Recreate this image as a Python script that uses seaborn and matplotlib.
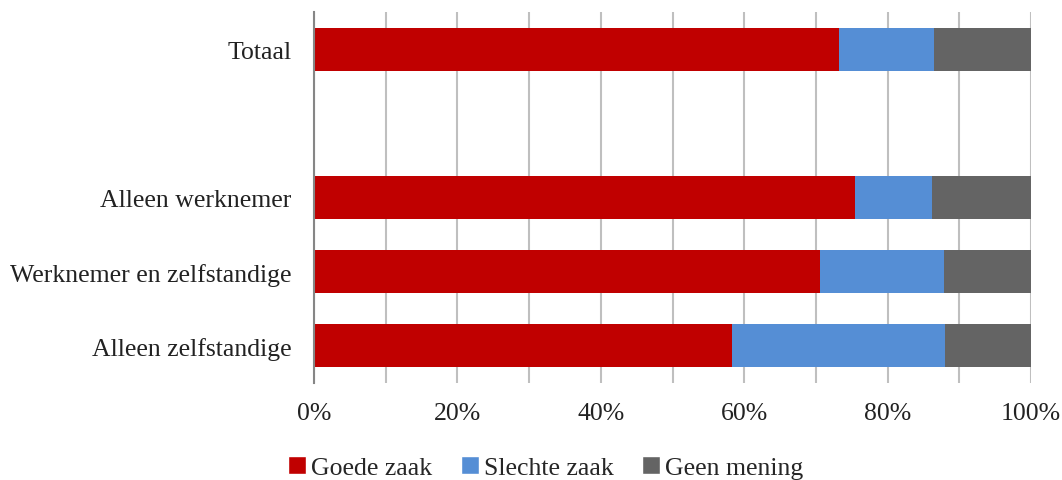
import pandas as pd
import matplotlib.pyplot as plt
import seaborn as sns
from matplotlib.patches import Patch
from matplotlib.ticker import MultipleLocator, PercentFormatter

# —— data (percentages) ——
categories = ["Totaal", " ", "Alleen werknemer", "Werknemer en zelfstandige", "Alleen zelfstandige"]
groups = ["Totaal", "Alleen werknemer", "Werknemer en zelfstandige", "Alleen zelfstandige"]
goede = [73.2, 75.5, 70.6, 58.3]
slechte = [13.3, 10.7, 17.2, 29.7]
geen = [13.5, 13.8, 12.2, 12.0]

series = ["Goede zaak", "Slechte zaak", "Geen mening"]
colors = ["#C00000", "#558ED5", "#646464"]

df = pd.DataFrame({"groep": groups, "goede": goede, "slechte": slechte, "geen": geen})
df["c1"] = df["goede"]
df["c2"] = df["goede"] + df["slechte"]
df["c3"] = df["c2"] + df["geen"]

sns.set_style("white")
plt.rcParams["font.family"] = ["Liberation Serif", "DejaVu Serif"]

fig = plt.figure(figsize=(10.62, 4.81), dpi=100)
ax = fig.add_axes([314 / 1062, 1 - 384 / 481, (1031 - 314) / 1062, 371 / 481])

# stacked: draw the cumulative totals back to front
for col, c in zip(["c3", "c2", "c1"], colors[::-1]):
    sns.barplot(data=df, x=col, y="groep", order=categories, color=c,
                orient="h", width=0.58, linewidth=0, saturation=1, ax=ax)

ax.set_xlim(0, 100)
ax.set_ylim(4.5, -0.5)
ax.xaxis.set_major_locator(MultipleLocator(20))
ax.xaxis.set_minor_locator(MultipleLocator(10))
ax.xaxis.set_major_formatter(PercentFormatter(decimals=0))
ax.grid(True, axis="x", which="both", color="#BFBFBF", linewidth=1.5)
ax.set_axisbelow(True)
ax.set_xlabel("")
ax.set_ylabel("")
for s in ["top", "right", "bottom"]:
    ax.spines[s].set_visible(False)
ax.spines["left"].set_color("#868686")
ax.spines["left"].set_linewidth(1.5)
ax.tick_params(axis="both", which="both", length=0, labelsize=18.5, colors="#222222")
ax.tick_params(axis="x", pad=14)
ax.tick_params(axis="y", pad=16)

handles = [Patch(facecolor=c, label=s) for s, c in zip(series, colors)]
fig.legend(handles=handles, loc="lower center", bbox_to_anchor=(0.514, -0.045), ncol=3,
           frameon=False, fontsize=18.5, handlelength=0.7, handleheight=0.7,
           handletextpad=0.2, columnspacing=1.1)

fig.savefig("out.png", dpi=100)
